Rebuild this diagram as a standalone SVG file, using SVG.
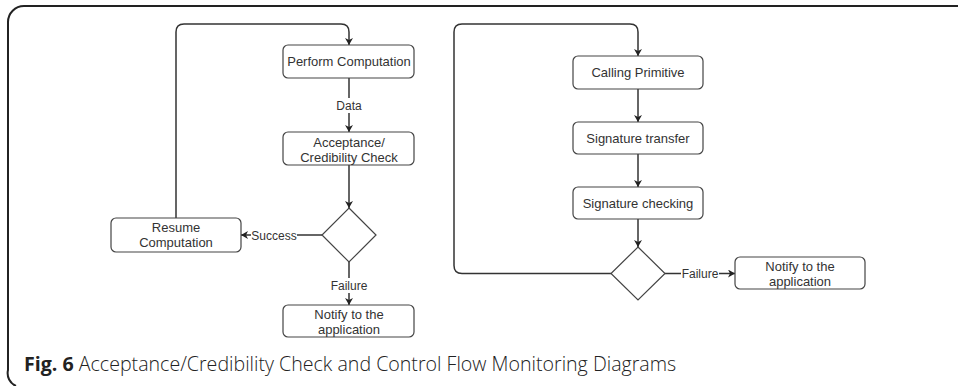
<svg xmlns="http://www.w3.org/2000/svg" width="958" height="386" viewBox="0 0 958 386">
<defs>
<marker id="arr" markerUnits="userSpaceOnUse" markerWidth="8" markerHeight="8" refX="7" refY="4" orient="auto">
<path d="M0,0 L7,4 L0,8 L2,4 z" fill="#222"/>
</marker>
<style>
.box{fill:#fff;stroke:#444;stroke-width:1.2}
.dia{fill:#fff;stroke:#444;stroke-width:1.2}
.t{font-family:"Liberation Sans",Arial,sans-serif;font-size:13px;fill:#333;text-anchor:middle}
.lbl{font-family:"Liberation Sans",Arial,sans-serif;font-size:12px;fill:#333;text-anchor:middle}
.lbg{fill:#fff}
.c{fill:none;stroke:#333;stroke-width:1.5}
.frame{fill:none;stroke:#222;stroke-width:2}
.cap{font-family:"Open Sans",sans-serif;font-size:19.6px;fill:#222;font-weight:300}
</style>
</defs>
<rect width="958" height="386" fill="#fff"/>
<path class="frame" d="M958,6 H24 A16,16 0 0 0 8,22 V370 A14,14 0 0 0 16,386"/>

<g id="connectors">
<path class="c" d="M176,218 V32 Q176,24 184,24 H341 Q349,24 349,32 V45" marker-end="url(#arr)"/>
<path class="c" d="M349,78 V132" marker-end="url(#arr)"/>
<path class="c" d="M349,165 V208" marker-end="url(#arr)"/>
<path class="c" d="M322,235 H241" marker-end="url(#arr)"/>
<path class="c" d="M349,262 V305" marker-end="url(#arr)"/>
<path class="c" d="M611,273.5 H462 Q454,273.5 454,265.5 V32 Q454,24 462,24 H630 Q638,24 638,32 V56" marker-end="url(#arr)"/>
<path class="c" d="M638,89 V122" marker-end="url(#arr)"/>
<path class="c" d="M638,154 V187" marker-end="url(#arr)"/>
<path class="c" d="M638,219 V247" marker-end="url(#arr)"/>
<path class="c" d="M665,273.5 H735" marker-end="url(#arr)"/>
<rect class="lbg" x="334" y="98" width="30" height="15"/>
<text class="lbl" x="349" y="110">Data</text>
<rect class="lbg" x="251" y="228" width="46" height="15"/>
<text class="lbl" x="274" y="239.5">Success</text>
<rect class="lbg" x="330" y="278" width="38" height="15"/>
<text class="lbl" x="349" y="289.5">Failure</text>
<rect class="lbg" x="681" y="266" width="38" height="15"/>
<text class="lbl" x="700" y="278">Failure</text>
</g>

<g id="perform">
<rect class="box" x="283" y="45" width="131" height="33" rx="5"/>
<text class="t" x="349" y="66">Perform Computation</text>
</g>
<g id="acceptance">
<rect class="box" x="283" y="132" width="131" height="33" rx="5"/>
<text class="t" x="349" y="146.5">Acceptance/</text>
<text class="t" x="349" y="161.5">Credibility Check</text>
</g>
<g id="decision1">
<polygon class="dia" points="349,208 376,235 349,262 322,235"/>
</g>
<g id="resume">
<rect class="box" x="111" y="218" width="130" height="34" rx="5"/>
<text class="t" x="176" y="232">Resume</text>
<text class="t" x="176" y="247">Computation</text>
</g>
<g id="notify1">
<rect class="box" x="283" y="305" width="131" height="32" rx="5"/>
<text class="t" x="349" y="319">Notify to the</text>
<text class="t" x="349" y="334">application</text>
</g>

<g id="calling">
<rect class="box" x="573" y="56" width="130" height="33" rx="5"/>
<text class="t" x="638" y="77">Calling Primitive</text>
</g>
<g id="transfer">
<rect class="box" x="573" y="122" width="130" height="32" rx="5"/>
<text class="t" x="638" y="142.5">Signature transfer</text>
</g>
<g id="checking">
<rect class="box" x="573" y="187" width="130" height="32" rx="5"/>
<text class="t" x="638" y="207.5">Signature checking</text>
</g>
<g id="decision2">
<polygon class="dia" points="638,247 665,273.5 638,300 611,273.5"/>
</g>
<g id="notify2">
<rect class="box" x="735" y="257" width="130" height="32" rx="5"/>
<text class="t" x="800" y="271">Notify to the</text>
<text class="t" x="800" y="286">application</text>
</g>

<text class="cap" x="24" y="371"><tspan font-weight="bold">Fig. 6</tspan> Acceptance/Credibility Check and Control Flow Monitoring Diagrams</text>
</svg>
